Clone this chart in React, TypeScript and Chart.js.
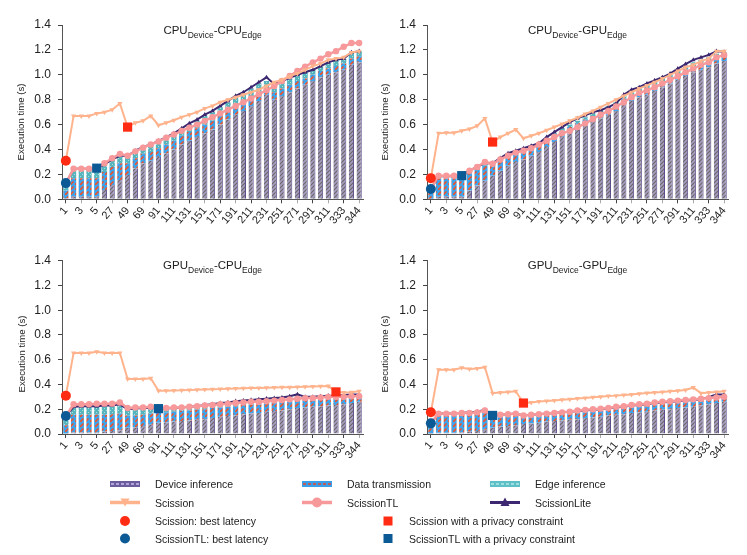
import React, { useEffect, useRef } from "react";
import { Chart, registerables } from "chart.js";
Chart.register(...registerables);

const FONT = '"Liberation Sans", Arial, Helvetica, sans-serif';
Chart.defaults.font.family = FONT;
Chart.defaults.color = "#222";

// ---------- DATA ----------
const splitPoints = [1, 2, 3, 4, 5, 16, 27, 38, 49, 59, 69, 80, 91, 101, 111, 121, 131, 141, 151, 161, 171, 181, 191, 201, 211, 221, 231, 241, 251, 261, 271, 281, 291, 301, 311, 322, 333, 338, 344];

// CPU device - CPU edge
const ccDevice = [0.01, 0.02, 0.02, 0.02, 0.02, 0.075, 0.115, 0.155, 0.195, 0.25, 0.29, 0.31, 0.34, 0.37, 0.40, 0.44, 0.47, 0.50, 0.53, 0.56, 0.60, 0.64, 0.68, 0.71, 0.75, 0.79, 0.84, 0.80, 0.83, 0.86, 0.89, 0.92, 0.95, 0.98, 1.00, 1.02, 1.04, 1.08, 1.10];
const ccTransmission = [0.06, 0.15, 0.15, 0.15, 0.15, 0.145, 0.145, 0.135, 0.095, 0.08, 0.075, 0.07, 0.07, 0.07, 0.07, 0.07, 0.07, 0.07, 0.07, 0.07, 0.07, 0.07, 0.07, 0.07, 0.07, 0.07, 0.06, 0.06, 0.06, 0.06, 0.06, 0.05, 0.05, 0.05, 0.05, 0.05, 0.05, 0.05, 0.05];
const ccEdge = [0.05, 0.075, 0.075, 0.075, 0.075, 0.06, 0.06, 0.06, 0.06, 0.06, 0.055, 0.06, 0.06, 0.06, 0.06, 0.06, 0.06, 0.06, 0.07, 0.07, 0.07, 0.07, 0.07, 0.07, 0.07, 0.07, 0.05, 0.06, 0.06, 0.055, 0.05, 0.05, 0.04, 0.04, 0.05, 0.05, 0.04, 0.05, 0.04];
const ccScission = [0.31, 0.67, 0.67, 0.67, 0.69, 0.70, 0.72, 0.77, 0.58, 0.615, 0.63, 0.67, 0.595, 0.615, 0.635, 0.66, 0.68, 0.70, 0.73, 0.75, 0.78, 0.80, 0.82, 0.84, 0.86, 0.88, 0.91, 0.94, 0.96, 0.99, 1.01, 1.04, 1.07, 1.09, 1.12, 1.13, 1.14, 1.18, 1.19];
const ccScissionTL = [0.13, 0.245, 0.245, 0.245, 0.25, 0.29, 0.33, 0.365, 0.35, 0.385, 0.415, 0.44, 0.465, 0.495, 0.52, 0.55, 0.575, 0.60, 0.63, 0.66, 0.69, 0.72, 0.75, 0.78, 0.81, 0.845, 0.875, 0.91, 0.95, 0.99, 1.03, 1.065, 1.10, 1.13, 1.165, 1.19, 1.225, 1.255, 1.255];
const ccScissionLite = [0.13, 0.245, 0.245, 0.245, 0.245, 0.28, 0.32, 0.35, 0.35, 0.39, 0.42, 0.44, 0.47, 0.50, 0.53, 0.57, 0.61, 0.64, 0.68, 0.71, 0.75, 0.79, 0.83, 0.86, 0.90, 0.94, 0.98, 0.925, 0.95, 0.975, 1.0, 1.02, 1.04, 1.07, 1.10, 1.12, 1.13, 1.18, 1.19];

// CPU device - GPU edge
const cgDevice = [0.005, 0.02, 0.02, 0.02, 0.02, 0.07, 0.11, 0.15, 0.19, 0.23, 0.27, 0.30, 0.32, 0.35, 0.38, 0.42, 0.46, 0.50, 0.53, 0.56, 0.59, 0.62, 0.65, 0.68, 0.71, 0.76, 0.79, 0.82, 0.84, 0.87, 0.90, 0.93, 0.96, 0.99, 1.02, 1.04, 1.06, 1.09, 1.11];
const cgTransmission = [0.06, 0.15, 0.15, 0.15, 0.15, 0.14, 0.13, 0.12, 0.08, 0.07, 0.07, 0.06, 0.06, 0.06, 0.05, 0.05, 0.05, 0.05, 0.05, 0.05, 0.05, 0.05, 0.05, 0.05, 0.05, 0.05, 0.05, 0.05, 0.05, 0.05, 0.05, 0.05, 0.05, 0.05, 0.05, 0.05, 0.05, 0.05, 0.05];
const cgEdge = [0.02, 0.02, 0.02, 0.02, 0.02, 0.02, 0.02, 0.02, 0.02, 0.02, 0.02, 0.02, 0.02, 0.02, 0.02, 0.02, 0.02, 0.02, 0.02, 0.02, 0.02, 0.02, 0.02, 0.02, 0.02, 0.02, 0.03, 0.02, 0.03, 0.03, 0.02, 0.02, 0.02, 0.03, 0.03, 0.03, 0.03, 0.03, 0.02];
const cgScission = [0.17, 0.53, 0.535, 0.535, 0.55, 0.565, 0.59, 0.65, 0.46, 0.50, 0.53, 0.56, 0.49, 0.51, 0.53, 0.555, 0.58, 0.605, 0.63, 0.655, 0.685, 0.71, 0.74, 0.77, 0.80, 0.83, 0.86, 0.89, 0.915, 0.94, 0.97, 1.0, 1.03, 1.06, 1.08, 1.11, 1.13, 1.19, 1.19];
const cgScissionTL = [0.083, 0.19, 0.19, 0.19, 0.19, 0.23, 0.26, 0.30, 0.285, 0.32, 0.35, 0.375, 0.39, 0.41, 0.44, 0.47, 0.50, 0.53, 0.55, 0.58, 0.61, 0.645, 0.68, 0.71, 0.745, 0.78, 0.82, 0.855, 0.875, 0.90, 0.93, 0.96, 0.99, 1.02, 1.05, 1.08, 1.10, 1.14, 1.16];
const cgScissionLite = [0.083, 0.185, 0.185, 0.185, 0.185, 0.23, 0.26, 0.29, 0.29, 0.33, 0.37, 0.39, 0.41, 0.43, 0.45, 0.50, 0.54, 0.58, 0.62, 0.65, 0.675, 0.70, 0.715, 0.74, 0.77, 0.84, 0.88, 0.90, 0.93, 0.955, 0.98, 1.01, 1.05, 1.085, 1.12, 1.14, 1.16, 1.19, 1.185];

// GPU device - CPU edge
const gcDevice = [0.0, 0.015, 0.015, 0.015, 0.015, 0.02, 0.025, 0.03, 0.05, 0.055, 0.065, 0.075, 0.09, 0.095, 0.10, 0.105, 0.11, 0.115, 0.12, 0.13, 0.14, 0.145, 0.15, 0.16, 0.165, 0.17, 0.18, 0.185, 0.19, 0.20, 0.21, 0.215, 0.22, 0.225, 0.23, 0.235, 0.24, 0.25, 0.26];
const gcTransmission = [0.07, 0.14, 0.14, 0.14, 0.14, 0.135, 0.135, 0.135, 0.10, 0.095, 0.09, 0.09, 0.08, 0.08, 0.08, 0.08, 0.08, 0.08, 0.08, 0.08, 0.075, 0.075, 0.075, 0.075, 0.07, 0.07, 0.07, 0.07, 0.07, 0.065, 0.065, 0.06, 0.05, 0.05, 0.05, 0.045, 0.04, 0.035, 0.03];
const gcEdge = [0.07, 0.075, 0.075, 0.075, 0.075, 0.075, 0.075, 0.075, 0.055, 0.055, 0.055, 0.05, 0.035, 0.04, 0.04, 0.04, 0.04, 0.04, 0.04, 0.04, 0.04, 0.04, 0.04, 0.04, 0.04, 0.04, 0.04, 0.04, 0.04, 0.04, 0.04, 0.03, 0.03, 0.03, 0.03, 0.03, 0.03, 0.03, 0.03];
const gcScission = [0.31, 0.655, 0.655, 0.655, 0.665, 0.655, 0.655, 0.655, 0.445, 0.445, 0.445, 0.45, 0.35, 0.35, 0.352, 0.353, 0.356, 0.357, 0.36, 0.362, 0.363, 0.366, 0.368, 0.369, 0.371, 0.372, 0.374, 0.375, 0.377, 0.378, 0.38, 0.382, 0.384, 0.386, 0.388, 0.34, 0.335, 0.338, 0.345];
const gcScissionTL = [0.145, 0.24, 0.24, 0.24, 0.245, 0.245, 0.245, 0.255, 0.21, 0.215, 0.215, 0.22, 0.205, 0.21, 0.215, 0.215, 0.22, 0.225, 0.23, 0.235, 0.24, 0.245, 0.25, 0.255, 0.26, 0.26, 0.265, 0.27, 0.275, 0.28, 0.285, 0.29, 0.29, 0.295, 0.30, 0.30, 0.30, 0.305, 0.305];
const gcScissionLite = [0.145, 0.22, 0.225, 0.225, 0.225, 0.23, 0.23, 0.24, 0.20, 0.205, 0.21, 0.21, 0.205, 0.205, 0.21, 0.215, 0.22, 0.225, 0.235, 0.24, 0.25, 0.255, 0.265, 0.27, 0.275, 0.28, 0.285, 0.29, 0.295, 0.305, 0.32, 0.30, 0.30, 0.305, 0.31, 0.31, 0.315, 0.32, 0.32];

// GPU device - GPU edge
const ggDevice = [0.0, 0.01, 0.01, 0.01, 0.015, 0.02, 0.025, 0.035, 0.05, 0.06, 0.065, 0.07, 0.08, 0.085, 0.09, 0.10, 0.105, 0.11, 0.115, 0.12, 0.13, 0.135, 0.14, 0.15, 0.155, 0.16, 0.17, 0.175, 0.18, 0.19, 0.195, 0.20, 0.21, 0.215, 0.22, 0.23, 0.24, 0.25, 0.26];
const ggTransmission = [0.065, 0.14, 0.14, 0.14, 0.14, 0.14, 0.14, 0.14, 0.09, 0.085, 0.085, 0.085, 0.06, 0.06, 0.06, 0.06, 0.06, 0.06, 0.06, 0.06, 0.06, 0.06, 0.06, 0.06, 0.06, 0.06, 0.055, 0.055, 0.055, 0.05, 0.05, 0.05, 0.045, 0.045, 0.045, 0.04, 0.04, 0.04, 0.035];
const ggEdge = [0.02, 0.015, 0.015, 0.015, 0.015, 0.015, 0.015, 0.015, 0.01, 0.01, 0.01, 0.01, 0.01, 0.01, 0.01, 0.01, 0.01, 0.01, 0.01, 0.01, 0.01, 0.01, 0.01, 0.01, 0.01, 0.01, 0.01, 0.01, 0.01, 0.01, 0.01, 0.01, 0.01, 0.01, 0.01, 0.01, 0.02, 0.02, 0.02];
const ggScission = [0.175, 0.52, 0.52, 0.52, 0.535, 0.525, 0.53, 0.54, 0.33, 0.335, 0.34, 0.345, 0.25, 0.255, 0.262, 0.266, 0.271, 0.276, 0.281, 0.286, 0.291, 0.296, 0.301, 0.306, 0.31, 0.316, 0.32, 0.325, 0.331, 0.336, 0.34, 0.346, 0.35, 0.356, 0.375, 0.33, 0.335, 0.34, 0.345];
const ggScissionTL = [0.086, 0.165, 0.165, 0.165, 0.17, 0.17, 0.175, 0.19, 0.15, 0.155, 0.16, 0.165, 0.15, 0.155, 0.16, 0.165, 0.17, 0.175, 0.18, 0.19, 0.195, 0.20, 0.205, 0.21, 0.22, 0.225, 0.235, 0.24, 0.245, 0.255, 0.26, 0.265, 0.27, 0.275, 0.28, 0.285, 0.29, 0.295, 0.30];
const ggScissionLite = [0.086, 0.165, 0.165, 0.165, 0.17, 0.175, 0.18, 0.195, 0.15, 0.155, 0.16, 0.165, 0.15, 0.155, 0.16, 0.165, 0.17, 0.175, 0.18, 0.185, 0.19, 0.195, 0.20, 0.21, 0.215, 0.22, 0.23, 0.235, 0.24, 0.25, 0.255, 0.26, 0.265, 0.27, 0.275, 0.28, 0.30, 0.32, 0.32];

// highlighted points, one entry per panel (CC, CG, GC, GG)
const scissionBestSplit = [1, 1, 1, 1];
const scissionBestValue = [0.31, 0.17, 0.31, 0.175];
const scissionTLBestSplit = [1, 1, 1, 1];
const scissionTLBestValue = [0.13, 0.083, 0.145, 0.086];
const scissionPrivacySplit = [49, 49, 322, 91];
const scissionPrivacyValue = [0.58, 0.46, 0.34, 0.25];
const scissionTLPrivacySplit = [5, 5, 91, 49];
const scissionTLPrivacyValue = [0.25, 0.19, 0.205, 0.15];

const panelTitles = [
  ["CPU", "Device", "-CPU", "Edge"],
  ["CPU", "Device", "-GPU", "Edge"],
  ["GPU", "Device", "-CPU", "Edge"],
  ["GPU", "Device", "-GPU", "Edge"],
];

// ---------- STYLE ----------
const C = {
  scission: "#ffb38c",
  tl: "#f7999b",
  lite: "#3c2770",
  red: "#ff2b12",
  blue: "#0b5a96",
};

const layouts = [
  { left: 0, top: 0, w: 373, h: 232, yWidth: 62, padTop: 25, padRight: 10, xHeight: 32.7, labelX: 21.5, labelY: 122 },
  { left: 373, top: 0, w: 374, h: 232, yWidth: 54, padTop: 25, padRight: 19, xHeight: 32.7, labelX: 12, labelY: 122 },
  { left: 0, top: 232, w: 373, h: 232, yWidth: 62, padTop: 28.7, padRight: 10, xHeight: 30, labelX: 22, labelY: 122 },
  { left: 373, top: 232, w: 374, h: 232, yWidth: 54, padTop: 28.7, padRight: 19, xHeight: 30, labelX: 12, labelY: 122 },
];

const panelData = [
  [ccDevice, ccTransmission, ccEdge, ccScission, ccScissionTL, ccScissionLite],
  [cgDevice, cgTransmission, cgEdge, cgScission, cgScissionTL, cgScissionLite],
  [gcDevice, gcTransmission, gcEdge, gcScission, gcScissionTL, gcScissionLite],
  [ggDevice, ggTransmission, ggEdge, ggScission, ggScissionTL, ggScissionLite],
];

function makePattern(size: number, bg: string, draw: (g: CanvasRenderingContext2D) => void) {
  const c = document.createElement("canvas");
  c.width = size;
  c.height = size;
  const g = c.getContext("2d")!;
  g.fillStyle = bg;
  g.fillRect(0, 0, size, size);
  draw(g);
  return g.createPattern(c, "repeat")!;
}

function buildPatterns() {
  const device = makePattern(4, "#a59dc2", (g) => {
    g.strokeStyle = "#6d6868";
    g.lineWidth = 1.2;
    g.beginPath();
    g.moveTo(-1, 5); g.lineTo(5, -1);
    g.moveTo(-1, 1); g.lineTo(1, -1);
    g.moveTo(3, 5); g.lineTo(5, 3);
    g.stroke();
  });
  const transmission = makePattern(5, "#3fa3ea", (g) => {
    g.strokeStyle = "#ef5128";
    g.lineWidth = 1.6;
    g.beginPath();
    g.moveTo(0, 5); g.lineTo(3.5, 1.5);
    g.stroke();
  });
  const edge = makePattern(4, "#56b4bc", (g) => {
    g.fillStyle = "#a9dede";
    g.fillRect(0, 0, 1, 1);
    g.fillRect(2, 2, 1, 1);
  });
  return { device, transmission, edge };
}

function markerData(split: number, value: number) {
  return splitPoints.map((s) => (s === split ? value : null));
}

function Panel({ idx }: { idx: number }) {
  const ref = useRef<HTMLCanvasElement | null>(null);
  const L = layouts[idx];
  useEffect(() => {
    const pats = buildPatterns();
    const [device, transmission, edge, sc, tl, lite] = panelData[idx];
    const title = panelTitles[idx];
    const deco = {
      id: "deco" + idx,
      afterDraw(chart: any) {
        const { ctx, chartArea } = chart;
        ctx.save();
        const mainFont = `11.5px ${FONT}`;
        const subFont = `8.5px ${FONT}`;
        const widths = title.map((t, i) => {
          ctx.font = i % 2 === 0 ? mainFont : subFont;
          return ctx.measureText(t).width;
        });
        const total = widths.reduce((a, b) => a + b, 0);
        let x = (chartArea.left + chartArea.right) / 2 - total / 2;
        const base = chartArea.top + 8.5;
        ctx.fillStyle = "#222";
        ctx.textAlign = "left";
        ctx.textBaseline = "alphabetic";
        title.forEach((t, i) => {
          ctx.font = i % 2 === 0 ? mainFont : subFont;
          ctx.fillText(t, x, i % 2 === 0 ? base : base + 4);
          x += widths[i];
        });
        ctx.translate(L.labelX, L.labelY);
        ctx.rotate(-Math.PI / 2);
        ctx.font = `9.6px ${FONT}`;
        ctx.textAlign = "center";
        ctx.textBaseline = "middle";
        ctx.fillText("Execution time (s)", 0, 0);
        ctx.restore();
      },
    };
    const barCommon = { type: "bar", stack: "bars", order: 10, barPercentage: 0.68, categoryPercentage: 1 };
    const chart = new Chart(ref.current!, {
      type: "bar",
      data: {
        labels: splitPoints.map(String),
        datasets: [
          { ...barCommon, label: "Device inference", data: device, backgroundColor: pats.device, borderWidth: { left: 0, right: 1, top: 0, bottom: 0 }, borderColor: "#5b4b8c", borderSkipped: false },
          { ...barCommon, label: "Data transmission", data: transmission, backgroundColor: pats.transmission, borderWidth: 0 },
          { ...barCommon, label: "Edge inference", data: edge, backgroundColor: pats.edge, borderWidth: 0 },
          { type: "line", label: "ScissionLite", data: lite, stack: "lite", order: 4, borderColor: C.lite, backgroundColor: C.lite, borderWidth: 2, pointStyle: "triangle", pointRadius: 2.6, pointBorderWidth: 0, tension: 0, clip: false },
          { type: "line", label: "ScissionTL", data: tl, stack: "tl", order: 3, borderColor: C.tl, backgroundColor: C.tl, borderWidth: 2.5, pointStyle: "circle", pointRadius: 3.2, pointBorderWidth: 0, tension: 0, clip: false },
          { type: "line", label: "Scission", data: sc, stack: "sc", order: 2, borderColor: C.scission, backgroundColor: C.scission, borderWidth: 2, pointStyle: "triangle", pointRotation: 180, pointRadius: 3, pointBorderWidth: 0, tension: 0, clip: false },
          { type: "line", label: "Scission: best latency", data: markerData(scissionBestSplit[idx], scissionBestValue[idx]), stack: "m1", order: 1, showLine: false, pointStyle: "circle", pointRadius: 5, pointBorderWidth: 0, backgroundColor: C.red, borderColor: C.red, clip: false },
          { type: "line", label: "ScissionTL: best latency", data: markerData(scissionTLBestSplit[idx], scissionTLBestValue[idx]), stack: "m2", order: 0, showLine: false, pointStyle: "circle", pointRadius: 5, pointBorderWidth: 0, backgroundColor: C.blue, borderColor: C.blue, clip: false },
          { type: "line", label: "Scission with a privacy constraint", data: markerData(scissionPrivacySplit[idx], scissionPrivacyValue[idx]), stack: "m3", order: 0, showLine: false, pointStyle: "rect", pointRadius: 6.5, pointBorderWidth: 0, backgroundColor: C.red, borderColor: C.red, clip: false },
          { type: "line", label: "ScissionTL with a privacy constraint", data: markerData(scissionTLPrivacySplit[idx], scissionTLPrivacyValue[idx]), stack: "m4", order: 0, showLine: false, pointStyle: "rect", pointRadius: 6.5, pointBorderWidth: 0, backgroundColor: C.blue, borderColor: C.blue, clip: false },
        ] as any,
      },
      options: {
        responsive: false,
        animation: false,
        events: [],
        layout: { padding: { left: 0, top: L.padTop, right: L.padRight, bottom: 0 } },
        plugins: { legend: { display: false }, tooltip: { enabled: false } },
        scales: {
          x: {
            stacked: true,
            offset: true,
            afterFit: (s: any) => { s.height = L.xHeight; },
            border: { display: true, color: "#555", width: 1 },
            grid: {
              display: true,
              offset: false,
              drawOnChartArea: false,
              drawTicks: true,
              tickLength: 4,
              color: (ctx: any) => (ctx.index % 2 === 1 ? "rgba(0,0,0,0)" : ctx.index % 4 === 0 ? "#444" : "#aaa"),
            },
            ticks: {
              autoSkip: false,
              minRotation: 50,
              maxRotation: 50,
              padding: 1,
              font: { size: 11 },
              color: "#222",
              callback: (_v: any, i: number) => (i % 2 === 0 ? String(splitPoints[i]) : ""),
            },
          },
          y: {
            stacked: true,
            min: 0,
            max: 1.4,
            afterFit: (s: any) => { s.width = L.yWidth; },
            border: { display: true, color: "#555", width: 1 },
            grid: { display: true, drawOnChartArea: false, drawTicks: true, tickLength: 4, color: "#444" },
            ticks: {
              stepSize: 0.2,
              padding: 7,
              font: { size: 12 },
              color: "#222",
              callback: (v: any) => Number(v).toFixed(1),
            },
          },
        },
      } as any,
      plugins: [deco],
    });
    return () => chart.destroy();
  }, []);
  return (
    <canvas
      ref={ref}
      width={L.w}
      height={L.h}
      style={{ position: "absolute", left: L.left, top: L.top, width: L.w, height: L.h }}
    />
  );
}

function Swatch({ kind, x, y }: { kind: string; x: number; y: number }) {
  if (kind === "device" || kind === "transmission" || kind === "edge") {
    const fill = kind === "device" ? "#6c5c9e" : kind === "transmission" ? "#3a9de8" : "#5cc0c6";
    const dash = kind === "device" ? "#c8bfee" : kind === "transmission" ? "#e8482c" : "#b5e6e8";
    return (
      <g>
        <rect x={x} y={y - 3} width={30} height={6} fill={fill} />
        <line x1={x + 1} y1={y} x2={x + 29} y2={y} stroke={dash} strokeWidth={1.3} strokeDasharray="3,2" />
      </g>
    );
  }
  if (kind === "scission") {
    return (
      <g>
        <line x1={x} y1={y} x2={x + 30} y2={y} stroke={C.scission} strokeWidth={3.5} />
        <polygon points={`${x + 10.5},${y - 4} ${x + 19.5},${y - 4} ${x + 15},${y + 4}`} fill={C.scission} />
      </g>
    );
  }
  if (kind === "tl") {
    return (
      <g>
        <line x1={x} y1={y} x2={x + 30} y2={y} stroke={C.tl} strokeWidth={3.5} />
        <circle cx={x + 15} cy={y} r={5} fill={C.tl} />
      </g>
    );
  }
  if (kind === "lite") {
    return (
      <g>
        <line x1={x} y1={y} x2={x + 30} y2={y} stroke={C.lite} strokeWidth={3} />
        <polygon points={`${x + 10.5},${y + 3.5} ${x + 19.5},${y + 3.5} ${x + 15},${y - 5}`} fill={C.lite} />
      </g>
    );
  }
  return null;
}

const legendText: React.CSSProperties = {
  position: "absolute",
  fontSize: 10.5,
  color: "#222",
  whiteSpace: "nowrap",
  lineHeight: "12px",
  transform: "translateY(-50%)",
};

function Legend() {
  const r1 = 484, r2 = 502.5, r3 = 521, r4 = 538.5;
  return (
    <>
      <svg width={747} height={555} style={{ position: "absolute", left: 0, top: 0 }}>
        <Swatch kind="device" x={110} y={r1} />
        <Swatch kind="transmission" x={302} y={r1} />
        <Swatch kind="edge" x={490} y={r1} />
        <Swatch kind="scission" x={110} y={r2} />
        <Swatch kind="tl" x={302} y={r2} />
        <Swatch kind="lite" x={490} y={r2} />
        <circle cx={125} cy={r3} r={5} fill={C.red} />
        <circle cx={125} cy={r4} r={5} fill={C.blue} />
        <rect x={383.5} y={r3 - 4.5} width={9} height={9} fill={C.red} />
        <rect x={383.5} y={r4 - 4.5} width={9} height={9} fill={C.blue} />
      </svg>
      <div style={{ ...legendText, left: 155, top: r1 }}>Device inference</div>
      <div style={{ ...legendText, left: 347, top: r1 }}>Data transmission</div>
      <div style={{ ...legendText, left: 535, top: r1 }}>Edge inference</div>
      <div style={{ ...legendText, left: 155, top: r2 }}>Scission</div>
      <div style={{ ...legendText, left: 347, top: r2 }}>ScissionTL</div>
      <div style={{ ...legendText, left: 535, top: r2 }}>ScissionLite</div>
      <div style={{ ...legendText, left: 155, top: r3 }}>Scission: best latency</div>
      <div style={{ ...legendText, left: 409, top: r3 }}>Scission with a privacy constraint</div>
      <div style={{ ...legendText, left: 155, top: r4 }}>ScissionTL: best latency</div>
      <div style={{ ...legendText, left: 409, top: r4 }}>ScissionTL with a privacy constraint</div>
    </>
  );
}

export default function App() {
  return (
    <div
      style={{
        position: "absolute",
        left: 0,
        top: 0,
        width: 747,
        height: 555,
        background: "#fff",
        fontFamily: FONT,
        overflow: "hidden",
      }}
    >
      {[0, 1, 2, 3].map((i) => (
        <Panel key={i} idx={i} />
      ))}
      <Legend />
    </div>
  );
}
